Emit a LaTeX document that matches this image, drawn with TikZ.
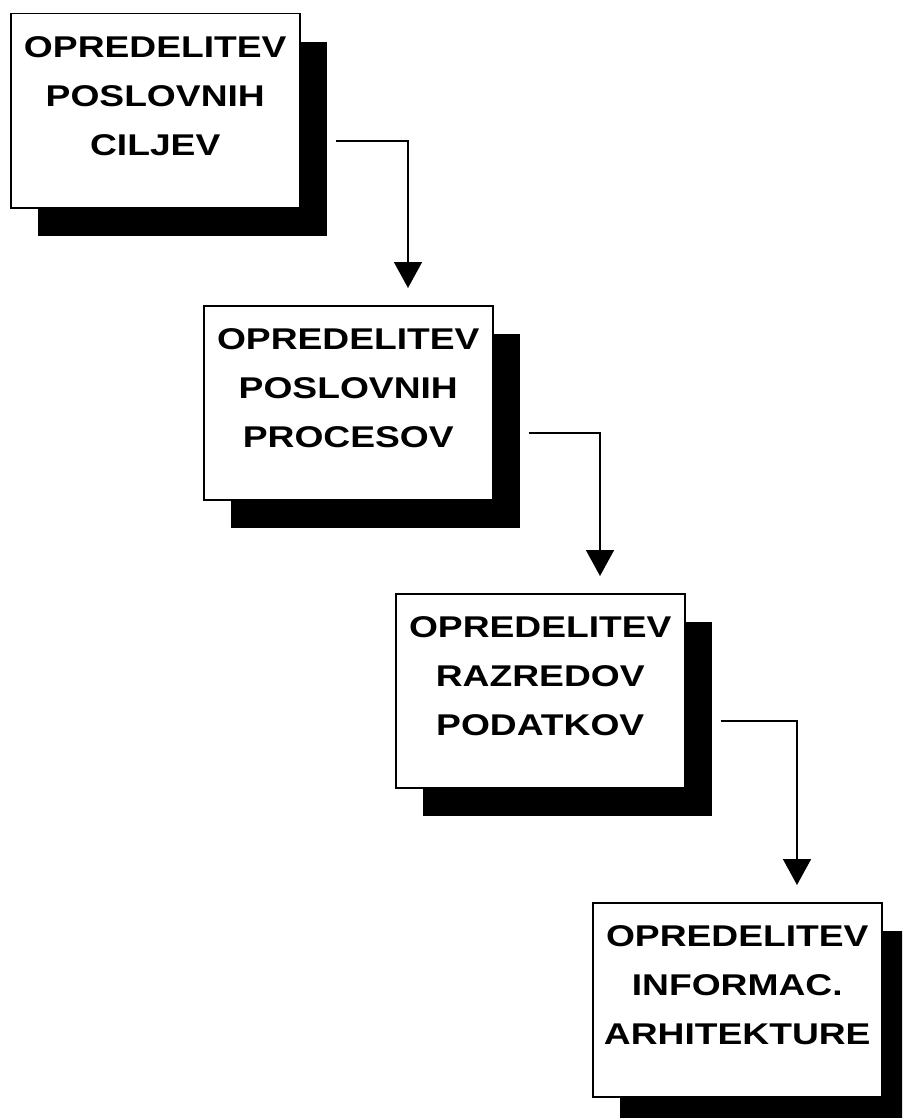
\documentclass[tikz,border=0pt]{standalone}
\usepackage{fontspec}
\setmainfont{Liberation Sans}
\newfontfamily\stagefont[FakeStretch=1.24]{Liberation Sans}
\usetikzlibrary{arrows.meta,shadows}

\tikzset{
  stage/.style={draw, line width=1.5pt, fill=white, anchor=north west,
    minimum width=289pt, minimum height=194pt, inner sep=0pt,
    drop shadow={shadow xshift=27pt, shadow yshift=-28pt, fill=black, opacity=1}},
  stagetext/.style={anchor=north, align=center, inner sep=0pt,
    font=\stagefont\bfseries\fontsize{30}{49}\selectfont},
  flow/.style={line width=1.6pt, -{Triangle[width=28pt,length=26pt]}}
}

\begin{document}
\begin{tikzpicture}[x=1pt, y=-1pt]
	\useasboundingbox (0,0) rectangle (902,1118);
	\clip (0,0) rectangle (902,1118);

	% the four stages, stepping down to the right
	\node[stage] (b1) at (10,13) {};
	\node[stagetext] (t1) at ([yshift=-23pt]b1.north) {OPREDELITEV\\POSLOVNIH\\CILJEV};

	\node[stage] (b2) at (203,305) {};
	\node[stagetext] (t2) at ([yshift=-23pt]b2.north) {OPREDELITEV\\POSLOVNIH\\PROCESOV};

	\node[stage] (b3) at (395,593) {};
	\node[stagetext] (t3) at ([yshift=-23pt]b3.north) {OPREDELITEV\\RAZREDOV\\PODATKOV};

	\node[stage] (b4) at (592,902) {};
	\node[stagetext] (t4) at ([yshift=-23pt]b4.north) {OPREDELITEV\\INFORMAC.\\ARHITEKTURE};

	% arrows from each stage down to the next one
	\draw[flow] ([xshift=35pt,yshift=-128pt]b1.north east) -| ([xshift=205pt,yshift=17pt]b2.north west);
	\draw[flow] ([xshift=35pt,yshift=-128pt]b2.north east) -| ([xshift=205pt,yshift=17pt]b3.north west);
	\draw[flow] ([xshift=35pt,yshift=-128pt]b3.north east) -| ([xshift=205pt,yshift=17pt]b4.north west);
\end{tikzpicture}
\end{document}
